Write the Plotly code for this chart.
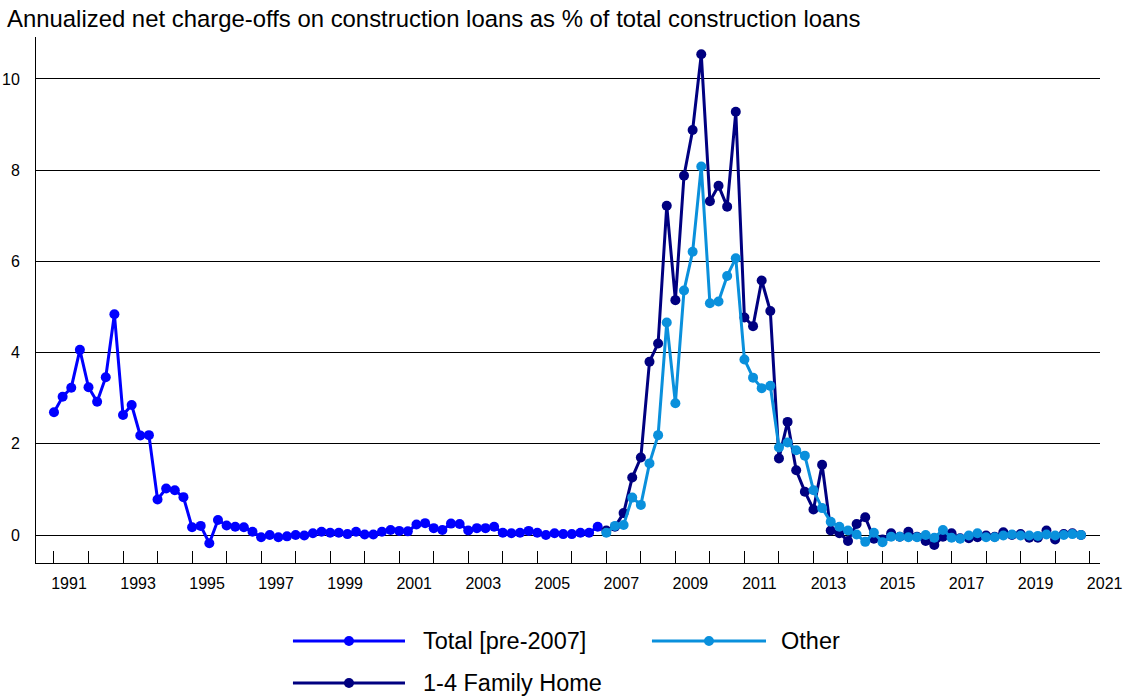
import plotly.graph_objects as go

# Quarterly net charge-off rates (% of construction loans, annualized)
total_start = 1991.0       # first quarter of the Total series (1991 Q1)
split_start = 2007.0       # first quarter of the split series (2007 Q1)

total_pre_2007 = [
    2.69, 3.03, 3.23, 4.06, 3.24, 2.92, 3.46, 4.84,
    2.63, 2.85, 2.18, 2.19, 0.78, 1.02, 0.98, 0.83,
    0.17, 0.20, -0.18, 0.33, 0.21, 0.18, 0.17, 0.07,
    -0.05, 0.00, -0.05, -0.03, 0.00, -0.01, 0.04, 0.07,
    0.05, 0.05, 0.02, 0.07, 0.01, 0.01, 0.07, 0.11,
    0.09, 0.08, 0.23, 0.26, 0.15, 0.11, 0.25, 0.24,
    0.10, 0.15, 0.15, 0.18, 0.05, 0.04, 0.05, 0.09,
    0.05, 0.00, 0.04, 0.02, 0.02, 0.05, 0.05, 0.18,
]

family_home = [
    0.10, 0.18, 0.48, 1.26, 1.70, 3.80, 4.20, 7.22,
    5.15, 7.88, 8.88, 10.54, 7.32, 7.66, 7.20, 9.28,
    4.77, 4.58, 5.58, 4.91, 1.68, 2.48, 1.42, 0.95,
    0.56, 1.54, 0.10, 0.04, -0.13, 0.24, 0.39, -0.08,
    -0.10, 0.04, -0.04, 0.07, -0.04, -0.13, -0.22, -0.04,
    0.04, -0.07, -0.07, -0.05, -0.01, -0.04, 0.06, 0.00,
    0.02, -0.06, -0.06, 0.10, -0.10, 0.02, 0.04, 0.00,
]

other = [
    0.05, 0.20, 0.22, 0.82, 0.66, 1.57, 2.19, 4.66,
    2.89, 5.36, 6.21, 8.08, 5.08, 5.12, 5.68, 6.07,
    3.85, 3.45, 3.22, 3.27, 1.92, 2.03, 1.86, 1.74,
    0.98, 0.59, 0.29, 0.18, 0.10, 0.01, -0.15, 0.05,
    -0.16, -0.04, -0.04, -0.05, -0.05, 0.00, -0.06, 0.11,
    -0.06, -0.08, -0.01, 0.04, -0.05, -0.05, -0.01, 0.01,
    -0.01, -0.01, -0.02, 0.01, -0.01, 0.00, 0.02, 0.00,
]

colors = {"Total [pre-2007]": "#0000FF", "Other": "#0A90DC", "1-4 Family Home": "#000080"}

year_ticks = list(range(1991, 2022))
year_labels = [str(y) if y % 2 == 1 else "" for y in year_ticks]
y_ticks = [0, 2, 4, 6, 8, 10]


def quarters(start, n):
    return [start + i / 4 for i in range(n)]


FONT = "Liberation Sans, Arial, sans-serif"

fig = go.Figure()

def add_series(name, start, values):
    fig.add_trace(go.Scatter(
        x=quarters(start, len(values)), y=values, name=name,
        mode="lines+markers",
        line=dict(color=colors[name], width=3),
        marker=dict(color=colors[name], size=10),
        showlegend=False, hoverinfo="x+y+name",
    ))

add_series("Total [pre-2007]", total_start, total_pre_2007)
add_series("1-4 Family Home", split_start, family_home)
add_series("Other", split_start, other)

# Legend keys drawn below the plot: long line with a dot in the middle
shapes = []
annotations = []
legend_slots = [
    # name, line start, line end, text start, row (paper coords)
    ("Total [pre-2007]", 0.2415, 0.3468, 0.3637, -0.1483),
    ("Other", 0.5789, 0.6861, 0.7002, -0.1483),
    ("1-4 Family Home", 0.2415, 0.3468, 0.3637, -0.2281),
]
for name, x0, x1, xt, yy in legend_slots:
    c = colors[name]
    shapes.append(dict(type="line", xref="paper", yref="paper",
                       x0=x0, x1=x1, y0=yy, y1=yy,
                       line=dict(color=c, width=3)))
    xm = (x0 + x1) / 2
    shapes.append(dict(type="circle", xref="paper", yref="paper",
                       xsizemode="pixel", ysizemode="pixel",
                       xanchor=xm, yanchor=yy, x0=-5, x1=5, y0=-5, y1=5,
                       fillcolor=c, line=dict(color=c, width=0)))
    annotations.append(dict(text=name, xref="paper", yref="paper",
                            x=xt, y=yy, xanchor="left", yanchor="middle",
                            xshift=-2, showarrow=False,
                            font=dict(size=23.5, color="black", family=FONT)))

fig.update_layout(
    width=1130, height=696,
    margin=dict(l=36, r=30, t=37, b=133),
    paper_bgcolor="white", plot_bgcolor="white",
    font=dict(family=FONT, color="black"),
    title=dict(text="Annualized net charge-offs on construction loans as % of total construction loans",
               x=7 / 1130, xref="container", xanchor="left",
               y=1 - 19 / 696, yref="container", yanchor="middle",
               font=dict(size=23.9, color="black", family=FONT)),
    shapes=shapes, annotations=annotations,
    showlegend=False,
)

fig.update_xaxes(
    range=[1990.479, 2021.30],
    tickmode="array", tickvals=year_ticks, ticktext=year_labels,
    ticks="inside", ticklen=12, tickwidth=1, tickcolor="black",
    ticklabelshift=15, ticklabelstandoff=6,
    showline=True, linecolor="black", linewidth=1,
    showgrid=False, zeroline=False, automargin=False,
    tickfont=dict(size=16, color="black"),
)

fig.update_yaxes(
    range=[-0.614, 10.92],
    tickmode="array", tickvals=y_ticks,
    ticks="", ticklabelstandoff=12,
    showline=True, linecolor="black", linewidth=1,
    showgrid=True, gridcolor="black", gridwidth=1,
    zeroline=True, zerolinecolor="black", zerolinewidth=1,
    automargin=False,
    tickfont=dict(size=16, color="black"),
)

fig.write_html("out.html")
